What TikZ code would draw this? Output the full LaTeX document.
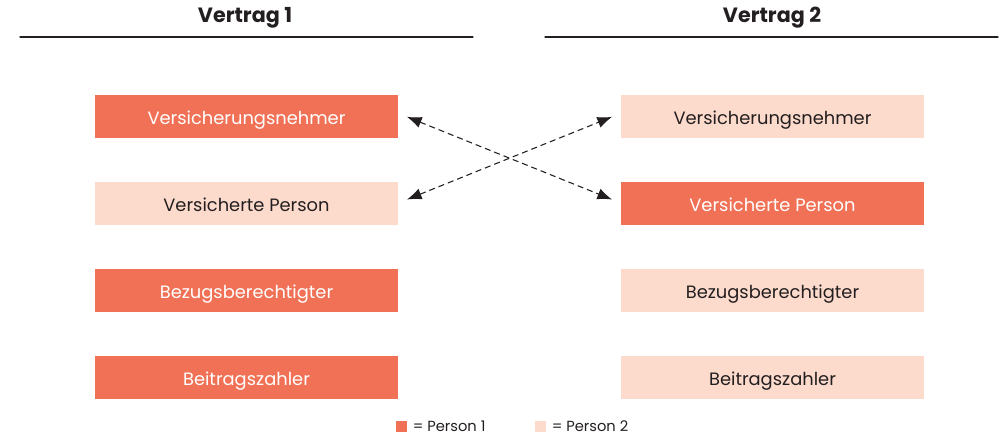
\documentclass[tikz,border=0pt]{standalone}
\usepackage{fontspec}
\setmainfont{Poppins}
\usetikzlibrary{arrows.meta, positioning}

\definecolor{rolledark}{HTML}{F07155}
\definecolor{rolelight}{HTML}{FCDACC}
\definecolor{inktext}{HTML}{231F20}

\begin{document}
\begin{tikzpicture}[x=0.75pt, y=-0.75pt, >={Latex[length=11pt,width=8.5pt]}, line cap=round, line join=round]
	
	%======================
	% STYLES
	%======================
	\tikzset{
		rolebox/.style={minimum width=227.25pt, minimum height=32.25pt, inner sep=0pt, text depth=0pt, text height=13pt, font=\fontsize{13.4}{15}\selectfont},
		dark/.style={rolebox, fill=rolledark, text=white},
		light/.style={rolebox, fill=rolelight, text=inktext},
		header/.style={font=\fontsize{15.5}{18}\selectfont\bfseries, text=inktext},
		rule/.style={line width=0.8pt, inktext},
		swap/.style={<->, dash pattern=on 4.5pt off 3pt, line cap=butt, line width=0.8pt, inktext, shorten <=7pt, shorten >=7pt},
		legendbox/.style={minimum size=8.25pt, inner sep=0pt},
		legendtext/.style={font=\fontsize{11}{13}\selectfont, text=inktext, inner sep=0pt, anchor=west}
	}
	
	\useasboundingbox (0,0) rectangle (1004,436);
	
	%======================
	% HEADERS
	%======================
	\node[header] (h1) at (245,18) {Vertrag 1};
	\node[header] (h2) at (772,18) {Vertrag 2};
	\coordinate (r1a) at (20,37);  \coordinate (r1b) at (473,37);
	\coordinate (r2a) at (545,37); \coordinate (r2b) at (998,37);
	\draw[rule] (r1a) -- (r1b);
	\draw[rule] (r2a) -- (r2b);
	
	%======================
	% VERTRAG 1
	%======================
	\node[dark]  (vn1) at (246.5,116) {Versicherungsnehmer};
	\node[light] (vp1) at (246.5,203) {Versicherte Person};
	\node[dark]  (bb1) at (246.5,290) {Bezugsberechtigter};
	\node[dark]  (bz1) at (246.5,377) {Beitragszahler};
	
	%======================
	% VERTRAG 2
	%======================
	\node[light] (vn2) at (772.5,116) {Versicherungsnehmer};
	\node[dark]  (vp2) at (772.5,203) {Versicherte Person};
	\node[light] (bb2) at (772.5,290) {Bezugsberechtigter};
	\node[light] (bz2) at (772.5,377) {Beitragszahler};
	
	% roles swap between the two contracts
	\draw[swap] ([yshift=2pt]vn1.east) -- (vp2.west);
	\draw[swap] (vp1.east) -- ([yshift=2pt]vn2.west);
	
	%======================
	% LEGEND
	%======================
	\node[legendbox, fill=rolledark] (k1) at (401.5,426.5) {};
	\node[legendtext, right=4pt of k1] (t1) {= Person 1};
	\node[legendbox, fill=rolelight] (k2) at (540.5,426.5) {};
	\node[legendtext, right=4pt of k2] (t2) {= Person 2};
\end{tikzpicture}
\end{document}
